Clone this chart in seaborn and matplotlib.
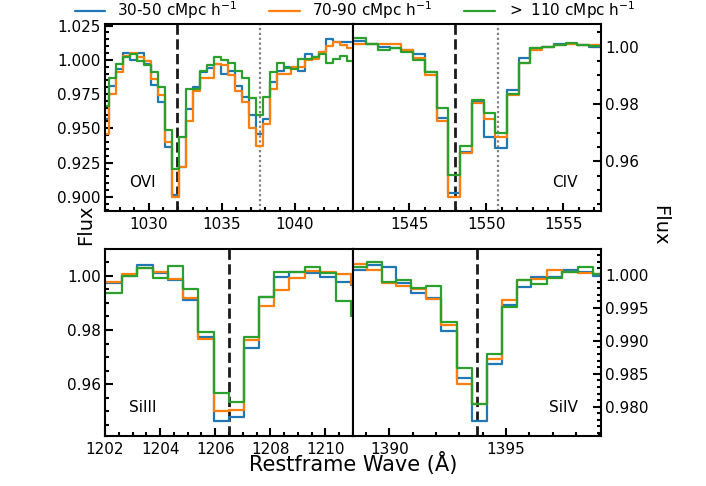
import matplotlib
matplotlib.use("Agg")
import matplotlib.pyplot as plt
from matplotlib.ticker import AutoMinorLocator, MultipleLocator
import seaborn as sns
import pandas as pd

samples = ['30-50 cMpc h$^{-1}$', '70-90 cMpc h$^{-1}$', '$>$ 110 cMpc h$^{-1}$']
colors = ['#1f77b4', '#ff7f0e', '#2ca02c']

# OVI doublet
ovi_wave = [1026.57, 1027.05, 1027.53, 1028.01, 1028.49, 1028.97, 1029.45, 1029.93, 1030.41,
            1030.89, 1031.37, 1031.85, 1032.33, 1032.81, 1033.29, 1033.77, 1034.25, 1034.73,
            1035.21, 1035.69, 1036.17, 1036.65, 1037.13, 1037.61, 1038.09, 1038.57, 1039.05,
            1039.53, 1040.01, 1040.49, 1040.97, 1041.45, 1041.93, 1042.41, 1042.89, 1043.37,
            1043.85]
ovi_f30 = [0.957, 0.957, 0.981, 0.993, 1.005, 1.000, 1.005, 0.997, 0.982, 0.969, 0.936, 0.901,
           0.922, 0.964, 0.980, 0.991, 0.994, 0.997, 0.990, 0.992, 0.981, 0.973, 0.960, 0.946,
           0.957, 0.984, 0.992, 0.995, 0.994, 0.992, 1.004, 1.002, 1.006, 1.015, 1.013, 1.013,
           1.013]
ovi_f70 = [0.946, 0.946, 0.975, 0.991, 1.003, 1.005, 1.002, 0.999, 0.986, 0.974, 0.940, 0.900,
           0.922, 0.955, 0.977, 0.987, 0.987, 0.997, 0.996, 0.989, 0.977, 0.969, 0.950, 0.937,
           0.953, 0.979, 0.990, 0.990, 0.995, 0.995, 1.000, 1.001, 1.006, 1.010, 1.013, 1.011,
           1.009]
ovi_f110 = [0.966, 0.966, 0.987, 0.997, 1.002, 1.004, 0.999, 0.996, 0.991, 0.980, 0.949, 0.920,
            0.944, 0.979, 0.979, 0.992, 0.996, 1.002, 1.000, 0.998, 0.992, 0.987, 0.972, 0.960,
            0.973, 0.991, 0.998, 0.994, 0.993, 1.001, 1.001, 1.002, 1.004, 0.998, 1.001, 1.003,
            0.999]

# CIV doublet
civ_wave = [1541.04, 1541.80, 1542.56, 1543.33, 1544.09, 1544.85, 1545.62, 1546.38, 1547.14,
            1547.91, 1548.67, 1549.43, 1550.19, 1550.96, 1551.72, 1552.48, 1553.24, 1554.01,
            1554.77, 1555.53, 1556.29, 1557.06, 1557.82]
civ_f30 = [1.002, 1.002, 1.001, 0.9997, 0.9994, 0.9988, 0.9973, 0.991, 0.975, 0.949, 0.9633,
           0.9808, 0.9685, 0.9645, 0.9848, 0.9959, 0.9994, 1.0, 1.0008, 1.001, 1.0006, 0.9997,
           0.9997]
civ_f70 = [1.001, 1.001, 1.001, 1.001, 1.001, 0.9988, 0.9959, 0.990, 0.974, 0.9476, 0.9627,
           0.9804, 0.9746, 0.9685, 0.9831, 0.9942, 0.9988, 1.0, 1.0004, 1.001, 1.0004, 1.0004,
           1.0004]
civ_f110 = [1.003, 1.003, 1.001, 0.9988, 0.9994, 0.998, 0.9953, 0.991, 0.9784, 0.9551, 0.9654,
            0.9814, 0.9767, 0.9697, 0.9834, 0.9944, 0.9994, 1.0, 1.0006, 1.0012, 1.0006, 1.0003,
            1.0003]

# SiIII
si3_wave = [1201.77, 1202.32, 1202.89, 1203.45, 1204.00, 1204.55, 1205.11, 1205.66, 1206.22,
            1206.77, 1207.32, 1207.87, 1208.41, 1208.96, 1209.52, 1210.09, 1210.64, 1211.19]
si3_f30 = [0.9974, 0.9974, 1.0, 1.0039, 1.0009, 0.9984, 0.991, 0.9775, 0.9464, 0.948, 0.9732,
           0.992, 0.9996, 1.0012, 1.0009, 0.9996, 0.9978, 0.9965]
si3_f70 = [0.9978, 0.9978, 1.0005, 1.003, 1.0015, 0.9989, 0.9916, 0.9766, 0.9502, 0.9504, 0.9763,
           0.9889, 0.9947, 0.999, 1.0018, 1.0012, 1.0005, 0.997]
si3_f110 = [0.9935, 0.9935, 0.9999, 1.003, 0.9993, 1.0037, 0.995, 0.9793, 0.9566, 0.9533, 0.9775,
            0.992, 1.0012, 1.0012, 1.0033, 1.0011, 0.9907, 0.9852]

# SiIV
si4_wave = [1388.06, 1388.70, 1389.35, 1389.98, 1390.61, 1391.26, 1391.90, 1392.55, 1393.21,
            1393.85, 1394.50, 1395.14, 1395.77, 1396.41, 1397.07, 1397.73, 1398.40, 1399.04]
si4_f30 = [1.0008, 1.0008, 1.0015, 1.0012, 0.9988, 0.9972, 0.9965, 0.9915, 0.9843, 0.9778, 0.9865,
           0.9955, 0.9982, 0.9997, 0.9997, 1.0008, 1.0005, 0.9998]
si4_f70 = [1.0017, 1.0017, 1.0007, 0.9988, 0.9984, 0.9978, 0.9964, 0.9924, 0.9835, 0.9804, 0.9873,
           0.9962, 0.9993, 0.9994, 1.0007, 1.0004, 1.0003, 1.0002]
si4_f110 = [1.0012, 1.0012, 1.0019, 0.999, 0.9992, 0.9981, 0.9983, 0.9928, 0.9859, 0.9804, 0.988,
            0.9952, 0.9993, 0.9987, 0.9996, 1.0004, 1.0012, 1.0002]

# panel settings: name, data, xlim, ylim, x tick step, dashed line, dotted line
panels = [
    ('OVI', ovi_wave, [ovi_f30, ovi_f70, ovi_f110], (1027.0, 1044.0), (0.8896, 1.0262), 5, 1031.92, 1037.61),
    ('CIV', civ_wave, [civ_f30, civ_f70, civ_f110], (1541.33, 1557.44), (0.9426, 1.0079), 5, 1547.97, 1550.73),
    ('SiIII', si3_wave, [si3_f30, si3_f70, si3_f110], (1202.0, 1211.0), (0.9409, 1.00985), 2, 1206.50, None),
    ('SiIV', si4_wave, [si4_f30, si4_f70, si4_f110], (1388.44, 1399.07), (0.97555, 1.00395), 5, 1393.75, None),
]

sns.set_theme(style='ticks')
plt.rcParams['font.family'] = ['DejaVu Sans']
plt.rcParams.update({'axes.linewidth': 1.5, 'axes.edgecolor': 'black',
                     'text.color': 'black', 'xtick.color': 'black', 'ytick.color': 'black',
                     'xtick.labelcolor': 'black', 'ytick.labelcolor': 'black'})

fig, axes = plt.subplots(2, 2, figsize=(7.06, 4.86), dpi=100)
fig.subplots_adjust(left=105/706, right=601/706, top=1-24/486, bottom=1-436/486,
                    wspace=0, hspace=0.203)

for i, (name, wave, fluxes, xlim, ylim, step, dash, dot) in enumerate(panels):
    ax = axes.flat[i]
    rows = []
    for s, f in zip(samples, fluxes):
        for w, v in zip(wave, f):
            rows.append({'wave': w, 'flux': v, 'sample': s})
    df = pd.DataFrame(rows)
    sns.lineplot(data=df, x='wave', y='flux', hue='sample', hue_order=samples,
                 palette=colors, estimator=None, sort=False, drawstyle='steps-mid',
                 lw=1.6, ax=ax, legend=(i == 0))
    ax.axvline(dash, color='k', ls='--', lw=2, zorder=1)
    if dot is not None:
        ax.axvline(dot, color='grey', ls=(0, (1, 1.2)), lw=1.6, zorder=1)
    ax.set_xlim(*xlim)
    ax.set_ylim(*ylim)
    ax.set_xlabel('')
    ax.set_ylabel('')
    ax.xaxis.set_major_locator(MultipleLocator(step))
    ax.xaxis.set_minor_locator(AutoMinorLocator())
    ax.yaxis.set_minor_locator(AutoMinorLocator())
    right = (i % 2 == 1)
    ax.tick_params(which='both', direction='in', width=1.5, labelsize=11,
                   left=not right, right=right, labelleft=not right, labelright=right,
                   top=False, bottom=True)
    ax.tick_params(axis='y', pad=3)
    ax.tick_params(axis='x', pad=4)
    ax.tick_params(which='major', length=6)
    ax.tick_params(which='minor', length=3)
    if right:
        ax.text(0.905, 0.155, name, transform=ax.transAxes, ha='right', va='center', fontsize=11)
    else:
        ax.text(0.097, 0.155, name, transform=ax.transAxes, ha='left', va='center', fontsize=11)

handles, labels = axes[0, 0].get_legend_handles_labels()
axes[0, 0].get_legend().remove()
fig.legend(handles, labels, loc='upper center', bbox_to_anchor=(0.503, 1.03), ncol=3,
           frameon=False, fontsize=11, columnspacing=2.1)

fig.text(86/706, 1-225/486, 'Flux', rotation=90, ha='center', va='center', fontsize=14)
fig.text(660/706, 1-225/486, 'Flux', rotation=270, ha='center', va='center', fontsize=14)
fig.text(353/706, 1-471/486, 'Restframe Wave (Å)', ha='center', va='baseline', fontsize=15)

fig.savefig('out.png', dpi=100)
